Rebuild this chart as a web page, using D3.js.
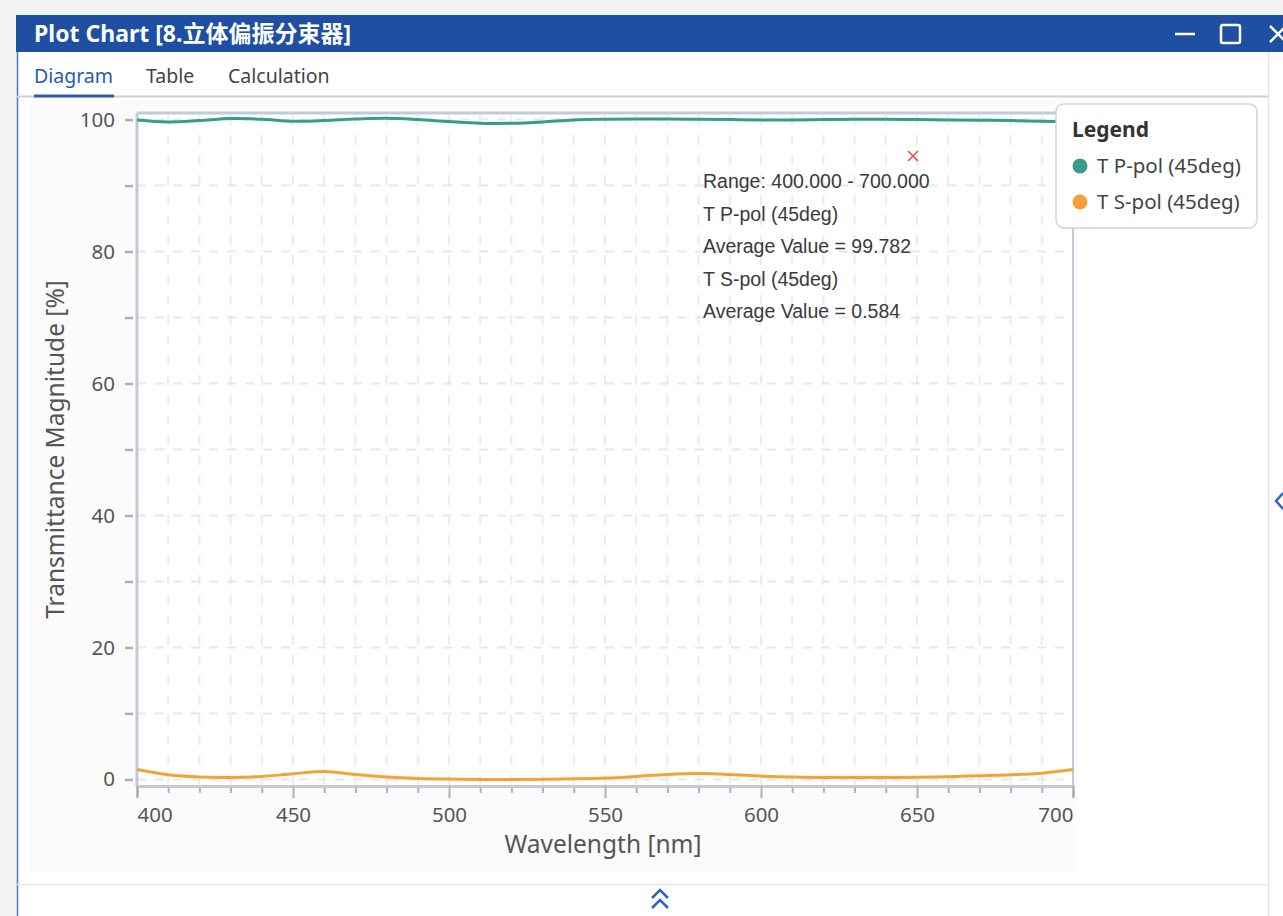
<!DOCTYPE html>
<html>
<head>
<meta charset="utf-8">
<script src="https://cdn.jsdelivr.net/npm/d3@7"></script>
<style>
  body { margin: 0; background: #f3f3f3; overflow: hidden; }
  svg text { font-family: "Noto Sans", "Open Sans", sans-serif; }
</style>
</head>
<body>
<div id="chart"></div>
<script>
// wavelength samples [nm]
const wavelengths = [400, 410, 420, 430, 440, 450, 460, 470, 480, 490, 500,
  510, 520, 530, 540, 550, 560, 570, 580, 590, 600,
  610, 620, 630, 640, 650, 660, 670, 680, 690, 700];
// T P-pol (45deg) [%]
const pPol = [99.95, 99.65, 99.85, 100.15, 100.05, 99.75, 99.85, 100.1, 100.2, 100.0, 99.7,
  99.45, 99.45, 99.65, 99.95, 100.05, 100.1, 100.1, 100.05, 100.0, 99.95,
  99.95, 100.0, 100.05, 100.05, 100.0, 99.95, 99.9, 99.85, 99.75, 99.7];
// T S-pol (45deg) [%]
const sPol = [1.5, 0.7, 0.35, 0.3, 0.45, 0.85, 1.2, 0.75, 0.35, 0.15, 0.05,
  0.0, 0.0, 0.02, 0.08, 0.2, 0.45, 0.75, 0.88, 0.75, 0.5,
  0.35, 0.3, 0.28, 0.3, 0.33, 0.4, 0.55, 0.7, 0.95, 1.5];

const seriesNames = ["T P-pol (45deg)", "T S-pol (45deg)"];
const seriesColors = ["#3a9b8b", "#f5a138"];
const xMajorTicks = [400, 450, 500, 550, 600, 650, 700];
const yMajorTicks = [0, 20, 40, 60, 80, 100];
const annotationLines = [
  "Range: 400.000 - 700.000",
  "T P-pol (45deg)",
  "Average Value = 99.782",
  "T S-pol (45deg)",
  "Average Value = 0.584",
];
const tabs = ["Diagram", "Table", "Calculation"];

const W = 1283, H = 916;
const plot = { left: 137, right: 1073, top: 113, bottom: 786 };
const FRAME = "#c3cbd6";
const BLUE = "#1e4fa2";

const svg = d3.select("#chart").append("svg")
  .attr("width", W).attr("height", H);

// window chrome
svg.append("rect").attr("x", 0).attr("y", 0).attr("width", W).attr("height", H).attr("fill", "#f3f3f3");
svg.append("rect").attr("x", 17).attr("y", 15).attr("width", W - 17).attr("height", H - 15).attr("fill", "#fff");
svg.append("line").attr("x1", 17.5).attr("x2", 17.5).attr("y1", 15).attr("y2", H)
  .attr("stroke", "#4a78c8").attr("stroke-width", 1.5);
svg.append("rect").attr("x", 16).attr("y", 15).attr("width", W - 16).attr("height", 37).attr("fill", BLUE);
svg.append("text").attr("x", 34).attr("y", 42)
  .attr("fill", "#fff").attr("font-size", 23).attr("font-weight", "bold")
  .style("font-family", "'Noto Sans', 'Noto Sans CJK SC', sans-serif")
  .text("Plot Chart [8.立体偏振分束器]");

// window buttons
svg.append("line").attr("x1", 1175).attr("x2", 1195).attr("y1", 34).attr("y2", 34)
  .attr("stroke", "#fff").attr("stroke-width", 2.5);
svg.append("rect").attr("x", 1221).attr("y", 25).attr("width", 19).attr("height", 18).attr("rx", 2)
  .attr("fill", "none").attr("stroke", "#fff").attr("stroke-width", 2.5);
svg.append("path").attr("d", "M1270,26 L1286,42 M1286,26 L1270,42")
  .attr("stroke", "#fff").attr("stroke-width", 2.5);

// tabs
const tabX = [34, 146, 228];
tabs.forEach((t, i) => {
  svg.append("text").attr("x", tabX[i]).attr("y", 83)
    .attr("font-size", 19.5).attr("fill", i === 0 ? "#2a5caf" : "#444").text(t);
});
svg.append("line").attr("x1", 17).attr("x2", 1269).attr("y1", 96.5).attr("y2", 96.5)
  .attr("stroke", "#d0d0d0").attr("stroke-width", 2);
svg.append("line").attr("x1", 34).attr("x2", 114).attr("y1", 96).attr("y2", 96)
  .attr("stroke", "#2a5caf").attr("stroke-width", 3);
svg.append("line").attr("x1", 1268.5).attr("x2", 1268.5).attr("y1", 52).attr("y2", H)
  .attr("stroke", "#e4e4e4").attr("stroke-width", 1.5);

// chart background
svg.append("rect").attr("x", 30).attr("y", 100).attr("width", 1045).attr("height", 772).attr("fill", "#fbfbfb");
svg.append("rect").attr("x", plot.left).attr("y", plot.top)
  .attr("width", plot.right - plot.left).attr("height", plot.bottom - plot.top).attr("fill", "#fff");

// bottom separator and collapse chevron
svg.append("line").attr("x1", 17).attr("x2", 1269).attr("y1", 884.5).attr("y2", 884.5)
  .attr("stroke", "#e8e8e8").attr("stroke-width", 1.5);
svg.append("path").attr("d", "M652,898 L660,890 L668,898 M652,908 L660,900 L668,908")
  .attr("fill", "none").attr("stroke", "#2f63c9").attr("stroke-width", 2.5);
svg.append("path").attr("d", "M1283,493 L1276,501 L1283,509")
  .attr("fill", "none").attr("stroke", "#2f63c9").attr("stroke-width", 2.5);

// scales
const x = d3.scaleLinear().domain([400, 700]).range([plot.left, plot.right]);
const y = d3.scaleLinear().domain([-1, 101]).range([plot.bottom, plot.top]);

const xMinor = wavelengths.filter((d) => d > 400 && d < 700);
const yAll = [0, 10, 20, 30, 40, 50, 60, 70, 80, 90, 100];

// grid
const grid = svg.append("g");
grid.selectAll(".vg").data(xMinor).enter().append("line")
  .attr("x1", (d) => x(d)).attr("x2", (d) => x(d))
  .attr("y1", plot.top + 2).attr("y2", plot.bottom)
  .attr("stroke", "#ececec").attr("stroke-width", 2).attr("stroke-dasharray", "10,10");
grid.selectAll(".hg").data(yAll).enter().append("line")
  .attr("x1", plot.left).attr("x2", plot.right)
  .attr("y1", (d) => y(d)).attr("y2", (d) => y(d))
  .attr("stroke", "#e8e8e8").attr("stroke-width", 2).attr("stroke-dasharray", "9,9");

// frame
svg.append("line").attr("x1", plot.left).attr("x2", plot.right).attr("y1", plot.top).attr("y2", plot.top)
  .attr("stroke", FRAME).attr("stroke-width", 3);
svg.append("line").attr("x1", plot.right).attr("x2", plot.right).attr("y1", plot.top).attr("y2", plot.bottom)
  .attr("stroke", FRAME).attr("stroke-width", 2);
svg.append("line").attr("x1", plot.left).attr("x2", plot.left).attr("y1", plot.top).attr("y2", plot.bottom)
  .attr("stroke", FRAME).attr("stroke-width", 3);

// x axis
const xAxisMinor = svg.append("g").attr("transform", `translate(0,${plot.bottom})`)
  .call(d3.axisBottom(x).tickValues(xMinor.filter((d) => d % 50 !== 0)).tickSize(7).tickFormat(""));
const xAxis = svg.append("g").attr("transform", `translate(0,${plot.bottom})`)
  .call(d3.axisBottom(x).tickValues(xMajorTicks).tickSize(12).tickPadding(9));
[xAxis, xAxisMinor].forEach((g) => {
  g.select(".domain").attr("stroke", FRAME).attr("stroke-width", 3);
  g.selectAll(".tick line").attr("stroke", "#b0b0b0").attr("stroke-width", 2);
});
xAxis.selectAll(".tick text")
  .attr("font-size", 20.5).attr("fill", "#555")
  .style("font-family", "'Noto Sans', sans-serif")
  .attr("text-anchor", (d) => (d === 400 ? "start" : d === 700 ? "end" : "middle"));

// y axis
const yAxis = svg.append("g").attr("transform", `translate(${plot.left - 4},0)`)
  .call(d3.axisLeft(y).tickValues(yAll).tickSize(8).tickPadding(10)
    .tickFormat((d) => (yMajorTicks.includes(d) ? d : "")));
yAxis.select(".domain").remove();
yAxis.selectAll(".tick line").attr("stroke", "#b0b0b0").attr("stroke-width", 2.5);
yAxis.selectAll(".tick text").attr("font-size", 20.5).attr("fill", "#555")
  .style("font-family", "'Noto Sans', sans-serif");

// axis titles
svg.append("text").attr("x", 603).attr("y", 853)
  .attr("text-anchor", "middle").attr("font-size", 24.5).attr("fill", "#555")
  .text("Wavelength [nm]");
svg.append("text")
  .attr("transform", `translate(64,${(plot.top + plot.bottom) / 2}) rotate(-90)`)
  .attr("text-anchor", "middle").attr("font-size", 24.5).attr("fill", "#555")
  .text("Transmittance Magnitude [%]");

// series lines
const line = d3.line()
  .x((d) => x(d[0]))
  .y((d) => y(d[1]))
  .curve(d3.curveCatmullRom);
[pPol, sPol].forEach((vals, i) => {
  svg.append("path")
    .datum(wavelengths.map((w, j) => [w, vals[j]]))
    .attr("d", line)
    .attr("fill", "none")
    .attr("stroke", seriesColors[i])
    .attr("stroke-width", 3);
});

// annotation marker + text
svg.append("path").attr("d", "M908,151 L918,161 M918,151 L908,161")
  .attr("stroke", "#e84a4a").attr("stroke-width", 1.5);
svg.append("g").selectAll("text").data(annotationLines).enter().append("text")
  .attr("x", 703).attr("y", (d, i) => 188 + i * 32.6)
  .attr("font-size", 19.5).attr("fill", "#3a3a3a")
  .style("font-family", "'Liberation Sans', Arial, sans-serif")
  .text((d) => d);

// legend
const lg = svg.append("g");
lg.append("rect").attr("x", 1056).attr("y", 104).attr("width", 201).attr("height", 124).attr("rx", 8)
  .attr("fill", "#fff").attr("stroke", "#cbd6e2").attr("stroke-width", 1.5);
lg.append("text").attr("x", 1072).attr("y", 137).attr("font-size", 21).attr("font-weight", "bold")
  .attr("fill", "#333").text("Legend");
seriesNames.forEach((name, i) => {
  lg.append("circle").attr("cx", 1080).attr("cy", 166 + i * 36).attr("r", 7.5).attr("fill", seriesColors[i]);
  lg.append("text").attr("x", 1097).attr("y", 173 + i * 36).attr("font-size", 20.5)
    .attr("fill", "#444").text(name);
});
</script>
</body>
</html>
